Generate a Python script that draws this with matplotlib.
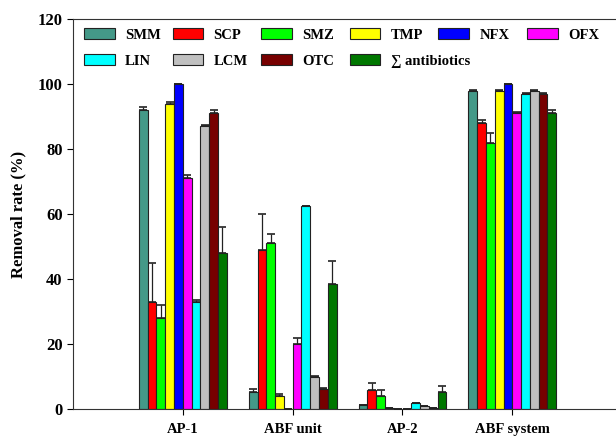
import matplotlib
matplotlib.use("Agg")
import matplotlib.pyplot as plt
import numpy as np

# removal rate of antibiotics per treatment step
groups = ["AP-1", "ABF unit", "AP-2", "ABF system"]
names = ["SMM", "SCP", "SMZ", "TMP", "NFX", "OFX", "LIN", "LCM", "OTC", "\u2211 antibiotics"]
colors = ["#449988", "#ff0000", "#00ff00", "#ffff00", "#0000ff",
          "#ff00ff", "#00ffff", "#c0c0c0", "#770000", "#007700"]

# rows = compounds, columns = groups
rates = [
    [92, 5.1, 1.2, 98],     # SMM
    [33, 49, 5.9, 88],      # SCP
    [28, 51, 4.1, 82],      # SMZ
    [94, 4, 0.4, 98],       # TMP
    [100, 0, 0, 100],       # NFX
    [71, 20, 0, 91],        # OFX
    [33, 62.4, 2, 97],      # LIN
    [87, 10, 1, 98],        # LCM
    [91, 6.2, 0.3, 97],     # OTC
    [48, 38.4, 5.1, 91],    # sum
]
errs = [
    [1, 1, 0, 0.3],
    [12, 11, 2.1, 1],
    [4, 3, 1.9, 3],
    [0.5, 0.5, 0, 0.3],
    [0, 0, 0, 0],
    [1, 2, 0, 0.3],
    [0.5, 0.2, 0, 0.2],
    [0.3, 0.3, 0, 0.3],
    [1, 0.2, 0, 0.3],
    [8, 7, 1.9, 1],
]

plt.rcParams['font.family'] = ['Liberation Serif', 'DejaVu Serif']
plt.rcParams['font.weight'] = 'bold'

W, H = 616, 438
fig = plt.figure(figsize=(W / 100, H / 100), dpi=100)
ax = fig.add_axes([73 / W, 1 - 409 / H, 1 - 73 / W + 0.01, 390 / H])

x = np.arange(1, len(groups) + 1)
w = 0.08
bars = []
for i in range(len(names)):
    pos = x + (i - 4.5) * w
    b = ax.bar(pos, rates[i], w, color=colors[i], edgecolor="#222222",
               linewidth=0.8, label=names[i], zorder=2)
    bars.append(b)
    ax.errorbar(pos, rates[i], yerr=[np.zeros(len(groups)), errs[i]],
                fmt="none", ecolor="#222222", elinewidth=0.9, capsize=3.2,
                capthick=1.2, zorder=3)

ax.set_xlim(0, 5.0)
ax.set_ylim(0, 120)
ax.set_yticks(range(0, 121, 20))
ax.set_xticks(x)
ax.set_xticklabels(groups, fontsize=10.5, fontweight="bold")
ax.tick_params(axis="y", labelsize=12, direction="out", length=4)
ax.tick_params(axis="x", direction="out", length=4, pad=6)
for lab in ax.get_yticklabels():
    lab.set_fontweight("bold")
ax.spines["right"].set_visible(False)
for s in ["left", "top", "bottom"]:
    ax.spines[s].set_color("#333333")
ax.set_ylabel("Removal rate (%)", fontsize=12, fontweight="bold", labelpad=8)

# legend laid out on a fixed grid: 6 per row
for i in range(len(names)):
    row, col = divmod(i, 6)
    lx = (84 + col * 88.6) / W
    ly = 1 - (35 + row * 26) / H
    leg = fig.legend([bars[i]], [names[i]], loc="center left",
                     bbox_to_anchor=(lx, ly), frameon=False,
                     handlelength=2.1, handleheight=0.8, handletextpad=0.7,
                     borderpad=0, borderaxespad=0,
                     prop={"weight": "bold", "size": 10.5})

fig.savefig("out.png", dpi=100)
